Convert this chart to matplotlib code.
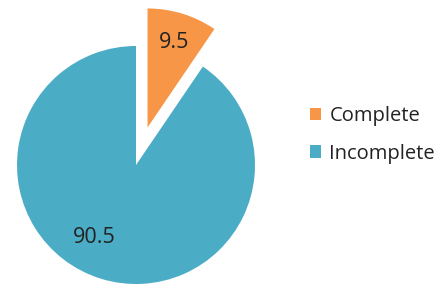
import numpy as np
import matplotlib.pyplot as plt

labels = ["Complete", "Incomplete"]
values = [9.5, 90.5]
colors = ["#F79646", "#4BACC6"]
explode = [0.33, 0]

plt.rcParams['font.family'] = ['Open Sans', 'DejaVu Sans']

fig = plt.figure(figsize=(4.4, 2.85), dpi=100)
ax = fig.add_axes([0, 0, 1, 1])

r_px = 119.0
cx, cy = 136.0, 165.0  # pie centre in pixels (from top-left)

wedges, texts = ax.pie(values, colors=colors, explode=explode, startangle=90,
                       counterclock=False, radius=1,
                       labels=[f"{v:g}" for v in values], labeldistance=0.75,
                       wedgeprops=dict(linewidth=0),
                       textprops=dict(fontsize=15.5, color="#222222",
                                      ha="center", va="center"))
# nudge big slice label toward where it sits in the reference
texts[1].set_position((-0.35, -0.61))

ax.set_xlim(-cx / r_px, (440 - cx) / r_px)
ax.set_ylim(-(285 - cy) / r_px, cy / r_px)
ax.set_aspect('equal')
ax.axis('off')

leg = fig.legend(wedges, labels, loc='center left',
                 bbox_to_anchor=(292 / 440, 1 - 135 / 285),
                 frameon=False, fontsize=14.5, handlelength=0.55, handleheight=0.55,
                 handletextpad=0.4, labelspacing=0.85)
for t in leg.get_texts():
    t.set_color("#222222")

fig.savefig('out.png', dpi=100)
